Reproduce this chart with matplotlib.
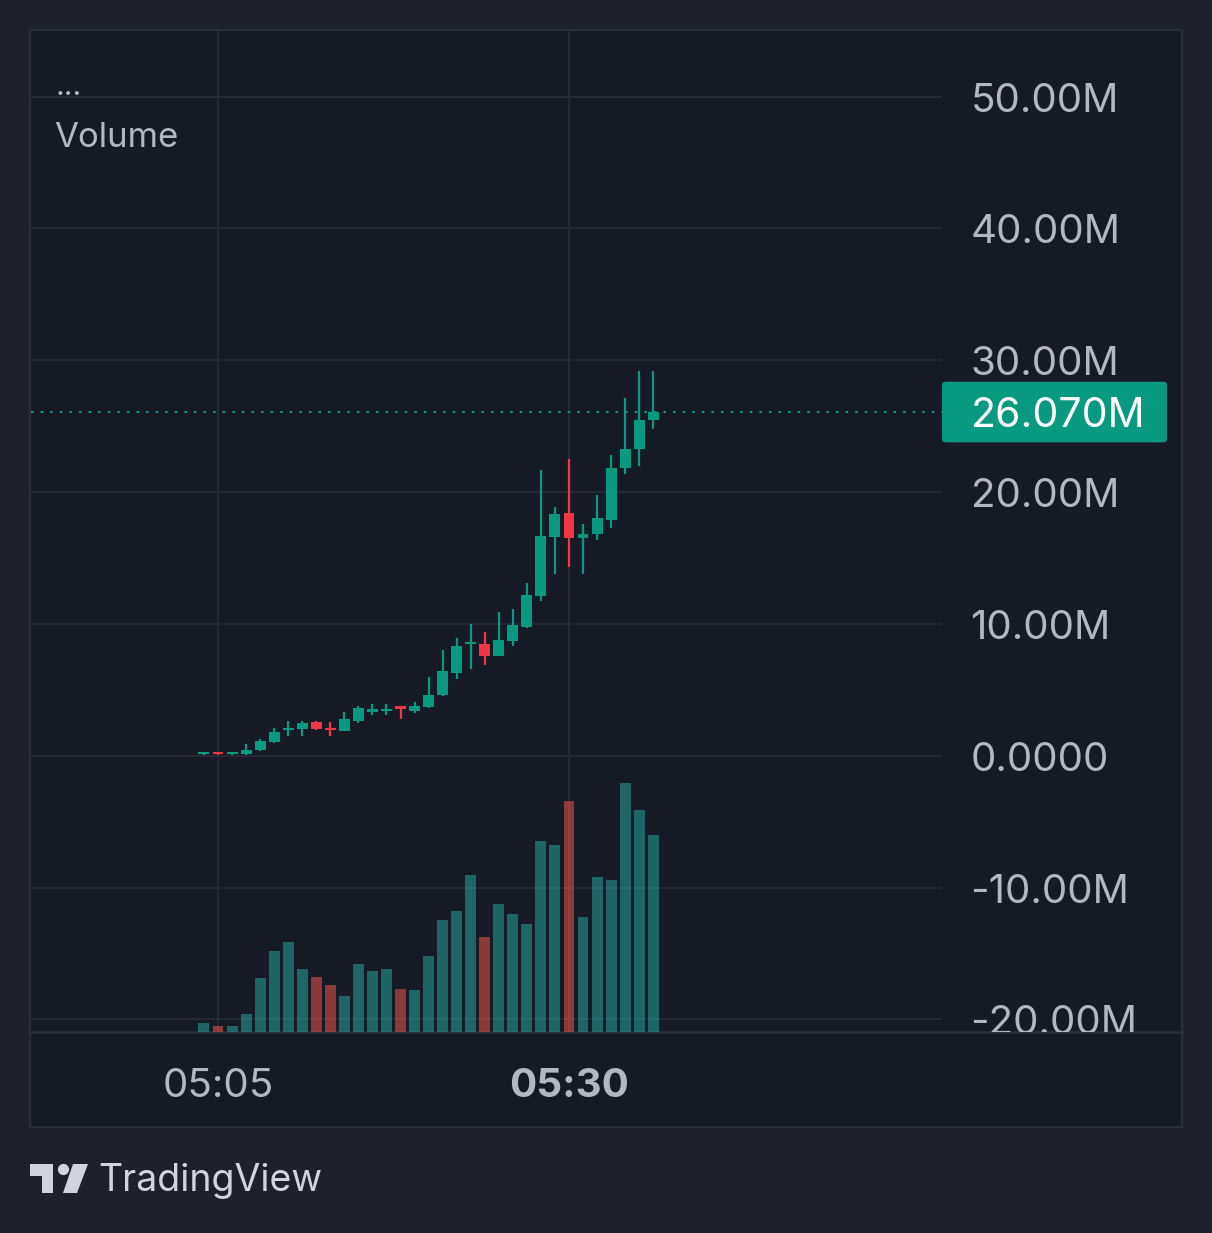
import matplotlib
matplotlib.use('Agg')
from matplotlib import pyplot as plt
from matplotlib import transforms
from matplotlib.patches import Rectangle, FancyBboxPatch, Circle, Polygon

plt.rcParams['font.family'] = ['Inter', 'DejaVu Sans']

# one candle per minute, 05:04 .. 05:36 (minute index from 05:00)
minutes = list(range(4, 37))
opens = [0.10, 0.15, 0.10, 0.10, 0.40, 1.05, 1.95, 2.00, 2.55, 2.10, 1.90, 2.60, 3.35, 3.40, 3.80, 3.40, 3.70,
         4.60, 6.30, 8.45, 8.50, 7.60, 8.70, 9.80, 12.10, 16.60, 18.40, 16.50, 16.80, 17.90, 21.80, 23.25, 25.45]
closes = [0.15, 0.10, 0.15, 0.45, 1.15, 1.80, 2.10, 2.50, 2.05, 1.95, 2.75, 3.65, 3.55, 3.55, 3.55, 3.80, 4.60,
          6.40, 8.35, 8.55, 7.60, 8.80, 9.95, 12.20, 16.70, 18.35, 16.50, 16.85, 18.00, 21.85, 23.30, 25.50, 26.07]
highs = [0.18, 0.18, 0.18, 0.85, 1.30, 2.10, 2.65, 2.60, 2.65, 2.55, 3.35, 3.80, 3.95, 3.95, 3.80, 4.10, 6.00,
         8.00, 8.95, 10.00, 9.35, 10.90, 11.10, 13.10, 21.70, 18.90, 22.50, 17.55, 19.75, 22.80, 27.10, 29.15, 29.15]
lows = [0.08, 0.08, 0.08, 0.05, 0.35, 1.00, 1.50, 1.50, 1.95, 1.50, 1.85, 2.50, 3.10, 3.10, 2.80, 3.25, 3.65,
        4.50, 5.85, 6.60, 6.90, 7.60, 8.35, 9.70, 11.75, 13.80, 14.30, 13.75, 16.35, 17.30, 21.40, 21.95, 24.75]
volume = [9, 6, 6, 18, 54, 81, 90, 63, 55, 47, 36, 68, 61, 63, 43, 42, 76,
          112, 121, 157, 95, 128, 118, 108, 191, 187, 231, 115, 155, 152, 249, 222, 197]

price_ticks = [-20, -10, 0, 10, 20, 30, 40, 50]
time_ticks = [5, 30]
time_labels = ['05:05', '05:30']

GREEN = '#089981'
RED = '#f23645'
VGREEN = '#26a69a'
VRED = '#ef5350'
BG_OUT = '#1e212b'
BG_IN = '#161a25'
GRID = '#272b36'
TXT = '#b4b7bf'

W, H = 1212, 1233
fig = plt.figure(figsize=(W / 100, H / 100), dpi=100, facecolor=BG_OUT)


def frac(x0, y0, x1, y1):
    return [x0 / W, 1 - y1 / H, (x1 - x0) / W, (y1 - y0) / H]


# decoration layer in pixel coords
deco = fig.add_axes([0, 0, 1, 1], zorder=0)
deco.set_xlim(0, W)
deco.set_ylim(H, 0)
deco.axis('off')
deco.add_patch(Rectangle((30, 30), 1152, 1097, facecolor=BG_IN, edgecolor='#2a2e39', lw=1.5))
deco.plot([31, 1182], [1032, 1032], color='#2a2e39', lw=2)

# logo
deco.add_patch(Polygon([(30, 1164), (53, 1164), (53, 1193), (42, 1193), (42, 1176), (30, 1176)],
                       closed=True, color='#d1d4dc', lw=0))
deco.add_patch(Circle((63.5, 1169.5), 5.6, color='#d1d4dc', lw=0))
deco.add_patch(Polygon([(73, 1164), (88, 1164), (77, 1193), (63, 1193)], closed=True, color='#d1d4dc', lw=0))
deco.text(98, 1191, 'TradingView', fontsize=27, color='#d1d4dc', va='baseline', ha='left')

deco.text(56, 95, '...', fontsize=22, color=TXT, va='baseline', ha='left')
deco.text(54, 147, 'Volume', fontsize=25, color=TXT, va='baseline', ha='left')

# main pane
ax = fig.add_axes(frac(31, 30, 942, 1032), zorder=1)
ax.set_facecolor('none')
ylo, yhi = -20.96, 55.05
ax.set_xlim(-8.32, 56.57)
ax.set_ylim(ylo, yhi)
for s in ax.spines.values():
    s.set_visible(False)
ax.set_xticks([])
ax.set_yticks([])
for v in price_ticks:
    ax.axhline(v, color=GRID, lw=1.3, zorder=0)
for t in time_ticks:
    ax.axvline(t, color=GRID, lw=1.3, zorder=0)

up = [c >= o for o, c in zip(opens, closes)]
cols = [GREEN if u else RED for u in up]
ax.vlines(minutes, lows, highs, colors=cols, lw=1.6, zorder=3)
bottoms = [min(o, c) for o, c in zip(opens, closes)]
heights = [max(abs(c - o), 0.17) for o, c in zip(opens, closes)]
ax.bar(minutes, heights, bottom=bottoms, width=0.78, color=cols, lw=0, zorder=4)

ax.axhline(closes[-1], color=GREEN, lw=1.5, linestyle=(0, (1.2, 3.4)), zorder=2)

# volume overlay
vax = ax.twinx()
vax.set_zorder(1)
vax.set_ylim(0, max(volume) / 0.2485)
vax.axis('off')
vcols = [VGREEN if u else VRED for u in up]
vax.bar(minutes, volume, width=0.78, color=vcols, alpha=0.55, lw=0)

# price scale
pax = fig.add_axes(frac(942, 30, 1182, 1032), zorder=2)
pax.set_facecolor('none')
pax.set_xlim(0, 240)
pax.set_ylim(ylo, yhi)
pax.axis('off')
lab_tr = transforms.offset_copy(pax.transData, fig=fig, y=-15, units='dots')
for v in price_ticks:
    lab = '0.0000' if v == 0 else f'{v:.2f}M'
    pax.text(28.5, v, lab, fontsize=29, color=TXT, va='baseline', ha='left', clip_on=True, transform=lab_tr)
tag = FancyBboxPatch((0, closes[-1] - 2.3), 225, 4.6, boxstyle='round,pad=0,rounding_size=4',
                     mutation_aspect=0.07, facecolor=GREEN, edgecolor='none', zorder=3)
pax.add_patch(tag)
pax.text(29, closes[-1], f'{closes[-1]:.3f}M', fontsize=29.5, color='white', va='baseline', ha='left',
         zorder=4, transform=lab_tr)

# time scale
tax = fig.add_axes(frac(31, 1032, 942, 1127), zorder=2)
tax.set_facecolor('none')
tax.set_xlim(-8.32, 56.57)
tax.set_ylim(1127, 1032)
tax.axis('off')
for t, lab in zip(time_ticks, time_labels):
    tax.text(t, 1097, lab, fontsize=29, color=TXT, ha='center', va='baseline',
             fontweight='bold' if lab == '05:30' else 'normal')

fig.savefig('out.png', dpi=100, facecolor=BG_OUT)
